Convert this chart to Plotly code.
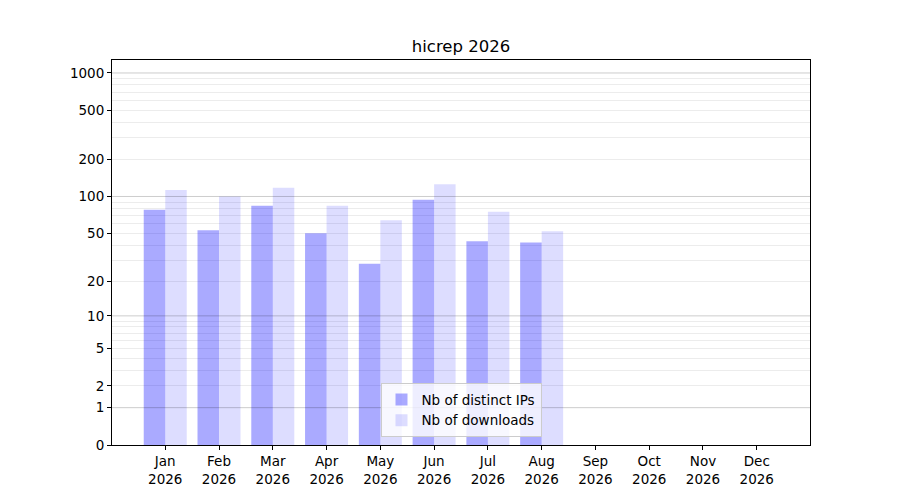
import numpy as np
import plotly.graph_objects as go

months = ["Jan", "Feb", "Mar", "Apr", "May", "Jun", "Jul", "Aug", "Sep", "Oct", "Nov", "Dec"]
year = 2026
distinct_ips = [78, 53, 84, 50, 28, 94, 43, 42, 0, 0, 0, 0]
downloads = [113, 100, 118, 84, 64, 126, 75, 52, 0, 0, 0, 0]
y_ticks = [0, 1, 2, 5, 10, 20, 50, 100, 200, 500, 1000]
y_major_grid = [1, 10, 100, 1000]
y_minor_grid = [m * d for d in (1, 10, 100) for m in range(2, 10)]


def scale(v):
    # log(1 + x) scale, as the reference axis
    return np.log10(1 + np.asarray(v, dtype=float))


labels = [f"{m}<br>{year}" for m in months]

fig = go.Figure()
fig.add_trace(go.Bar(x=labels, y=scale(distinct_ips), name="Nb of distinct IPs",
                     marker=dict(color="rgba(0,0,255,0.333)", line=dict(width=0)),
                     hovertext=distinct_ips))
fig.add_trace(go.Bar(x=labels, y=scale(downloads), name="Nb of downloads",
                     marker=dict(color="rgba(0,0,255,0.135)", line=dict(width=0)),
                     hovertext=downloads))

for v in y_major_grid:
    fig.add_shape(type="line", xref="paper", x0=0, x1=1, y0=float(scale(v)), y1=float(scale(v)),
                  line=dict(color="rgba(0,0,0,0.2)", width=1), layer="above")

font = "DejaVu Sans, Arial, sans-serif"
fig.update_layout(
    width=900, height=500,
    margin=dict(l=112, r=90, t=60, b=55),
    paper_bgcolor="white", plot_bgcolor="white",
    title=dict(text="hicrep 2026", x=0.5, xref="paper", xanchor="center", y=1 - 46 / 500, yanchor="middle",
               font=dict(family=font, size=16.5, color="black")),
    font=dict(family=font, size=13.5, color="black"),
    barmode="group", bargap=0.2, bargroupgap=0,
    showlegend=True,
    legend=dict(x=0.5, xanchor="center", y=0.02, yanchor="bottom",
                bgcolor="rgba(255,255,255,0.8)", bordercolor="#cccccc", borderwidth=1,
                font=dict(family=font, size=13.5), tracegroupgap=0),
)
fig.update_xaxes(range=[-0.99, 11.99], showline=True, linecolor="black", linewidth=1, mirror=True,
                 ticks="outside", ticklen=4, tickcolor="black", showgrid=False)
fig.update_yaxes(range=[0, 3.105], tickvals=scale(y_ticks), ticktext=[str(t) for t in y_ticks],
                 showline=True, linecolor="black", linewidth=1, mirror=True,
                 ticks="outside", ticklen=4, tickcolor="black", showgrid=False, zeroline=False,
                 minor=dict(tickvals=scale(y_minor_grid), showgrid=True, gridcolor="#ececec",
                            gridwidth=1, ticks=""))

# page has a default body margin, drop it so the figure sits at the window corner
fig.write_html("out.html", config={"displayModeBar": False},
               post_script="document.body.style.margin = '0';")
